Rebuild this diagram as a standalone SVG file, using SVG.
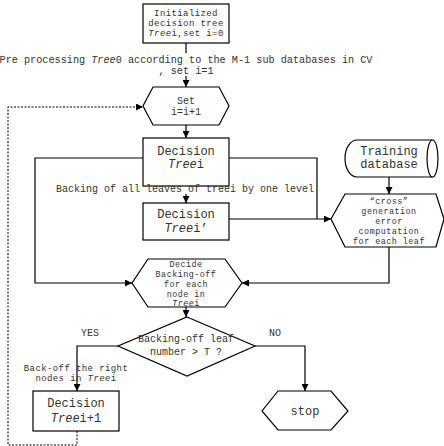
<svg xmlns="http://www.w3.org/2000/svg" width="444" height="446" viewBox="0 0 444 446">
<defs>
<style>
.s{fill:#fff;stroke:#000;stroke-width:1.2}
.l{fill:none;stroke:#000;stroke-width:1.2}
.d{fill:none;stroke:#000;stroke-width:1;stroke-dasharray:2,1.5}
text{font-family:"Liberation Mono","DejaVu Sans Mono",monospace;fill:#333;text-anchor:middle}
.f12{font-size:12px}
.f10{font-size:10px}
.fp{font-size:10.2px}
.f9{font-size:8.4px;letter-spacing:0.5px}
.fb{font-size:9px;letter-spacing:0.4px}
.i{font-style:italic}
</style>
<marker id="a" viewBox="0 0 8 8" refX="8" refY="4" markerWidth="7" markerHeight="7" orient="auto" markerUnits="userSpaceOnUse"><path d="M0,0 L8,4 L0,8 Z" fill="#000"/></marker>
</defs>
<g id="connectors">
<line class="l" x1="186" y1="43" x2="186" y2="53"/>
<line class="l" x1="186" y1="76" x2="186" y2="87" marker-end="url(#a)"/>
<line class="l" x1="186" y1="125" x2="186" y2="138" marker-end="url(#a)"/>
<line class="l" x1="186" y1="194" x2="186" y2="203" marker-end="url(#a)"/>
<polyline class="l" points="143,158 35,158 35,283 132,283" marker-end="url(#a)"/>
<polyline class="l" points="229,158 317,158 317,219"/>
<line class="l" x1="229" y1="219" x2="331" y2="219" marker-end="url(#a)"/>
<line class="l" x1="389" y1="177" x2="389" y2="194" marker-end="url(#a)"/>
<polyline class="l" points="389,247 389,283 242,283" marker-end="url(#a)"/>
<line class="l" x1="186" y1="307" x2="186" y2="317" marker-end="url(#a)"/>
<polyline class="l" points="118,346 77,346 77,391" marker-end="url(#a)"/>
<polyline class="l" points="255,346 305,346 305,391" marker-end="url(#a)"/>
<polyline class="d" points="77,431 77,445 8,445 8,107 143,107" marker-end="url(#a)"/>
</g>
<g id="n-init">
<rect class="s" x="143" y="4" width="86" height="39"/>
<text class="fb" x="186" y="16">Initialized</text>
<text class="fb" x="186" y="26">decision tree</text>
<text class="fb" x="186" y="36"><tspan class="i">Tree</tspan>i,set i=0</text>
</g>
<g id="lbl-pre">
<text class="fp" x="186" y="63">Pre processing <tspan class="i">Tree</tspan>0 according to the M-1 sub databases in CV</text>
<text class="fp" x="186" y="74">, set i=1</text>
</g>
<g id="n-set">
<polygon class="s" points="153,87 219,87 229,106 219,125 153,125 143,106"/>
<text class="f10" x="186" y="104">Set</text>
<text class="f10" x="186" y="115">i=i+1</text>
</g>
<g id="n-tree">
<rect class="s" x="143" y="138" width="86" height="48"/>
<text class="f12" x="186" y="155">Decision</text>
<text class="f12" x="186" y="168"><tspan class="i">Tree</tspan>i</text>
</g>
<g id="lbl-back">
<text class="f10" x="185" y="192">Backing of all leaves of treei by one level</text>
</g>
<g id="n-tree2">
<rect class="s" x="143" y="203" width="86" height="37"/>
<text class="f12" x="186" y="218">Decision</text>
<text class="f12" x="186" y="232"><tspan class="i">Tree</tspan>i’</text>
</g>
<g id="n-db">
<path class="s" d="M357,140 L432.5,140 A5.5,18.5 0 0 1 432.5,177 L357,177 A12,18.5 0 0 1 357,140 Z"/>
<path class="l" d="M432.5,140 A5.5,18.5 0 0 0 432.5,177"/>
<text class="f12" x="389" y="155">Training</text>
<text class="f12" x="389" y="168">database</text>
</g>
<g id="n-cross">
<polygon class="s" points="345,194 436,194 444,219 436,247 345,247 331,219"/>
<text class="f9" x="389" y="204">“cross”</text>
<text class="f9" x="389" y="214">generation</text>
<text class="f9" x="389" y="224">error</text>
<text class="f9" x="389" y="234">computation</text>
<text class="f9" x="389" y="244">for each leaf</text>
</g>
<g id="n-decide">
<polygon class="s" points="148,259 225,259 242,283 225,307 148,307 132,283"/>
<text class="f9" x="186" y="267">Decide</text>
<text class="f9" x="186" y="277">Backing-off</text>
<text class="f9" x="186" y="287">for each</text>
<text class="f9" x="186" y="297">node in</text>
<text class="f9" x="186" y="306"><tspan class="i">Tree</tspan>i</text>
</g>
<g id="n-cond">
<polygon class="s" points="187,317 255,346 187,376 118,346"/>
<text class="f10" x="186" y="342">Backing-off leaf</text>
<text class="f10" x="186" y="355">number &gt; T ?</text>
</g>
<g id="lbl-yn">
<text class="f10" x="90" y="336">YES</text>
<text class="f10" x="275" y="336">NO</text>
</g>
<g id="lbl-backoff">
<text class="fb" x="76" y="371">Back-off the right</text>
<text class="fb" x="76" y="381">nodes in <tspan class="i">Tree</tspan>i</text>
</g>
<g id="n-next">
<rect class="s" x="33" y="391" width="86" height="40"/>
<text class="f12" x="76" y="407">Decision</text>
<text class="f12" x="76" y="422"><tspan class="i">Tree</tspan>i+1</text>
</g>
<g id="n-stop">
<polygon class="s" points="278,391 331,391 348,411 331,430 278,430 262,411"/>
<text class="f12" x="305" y="415">stop</text>
</g>
</svg>
